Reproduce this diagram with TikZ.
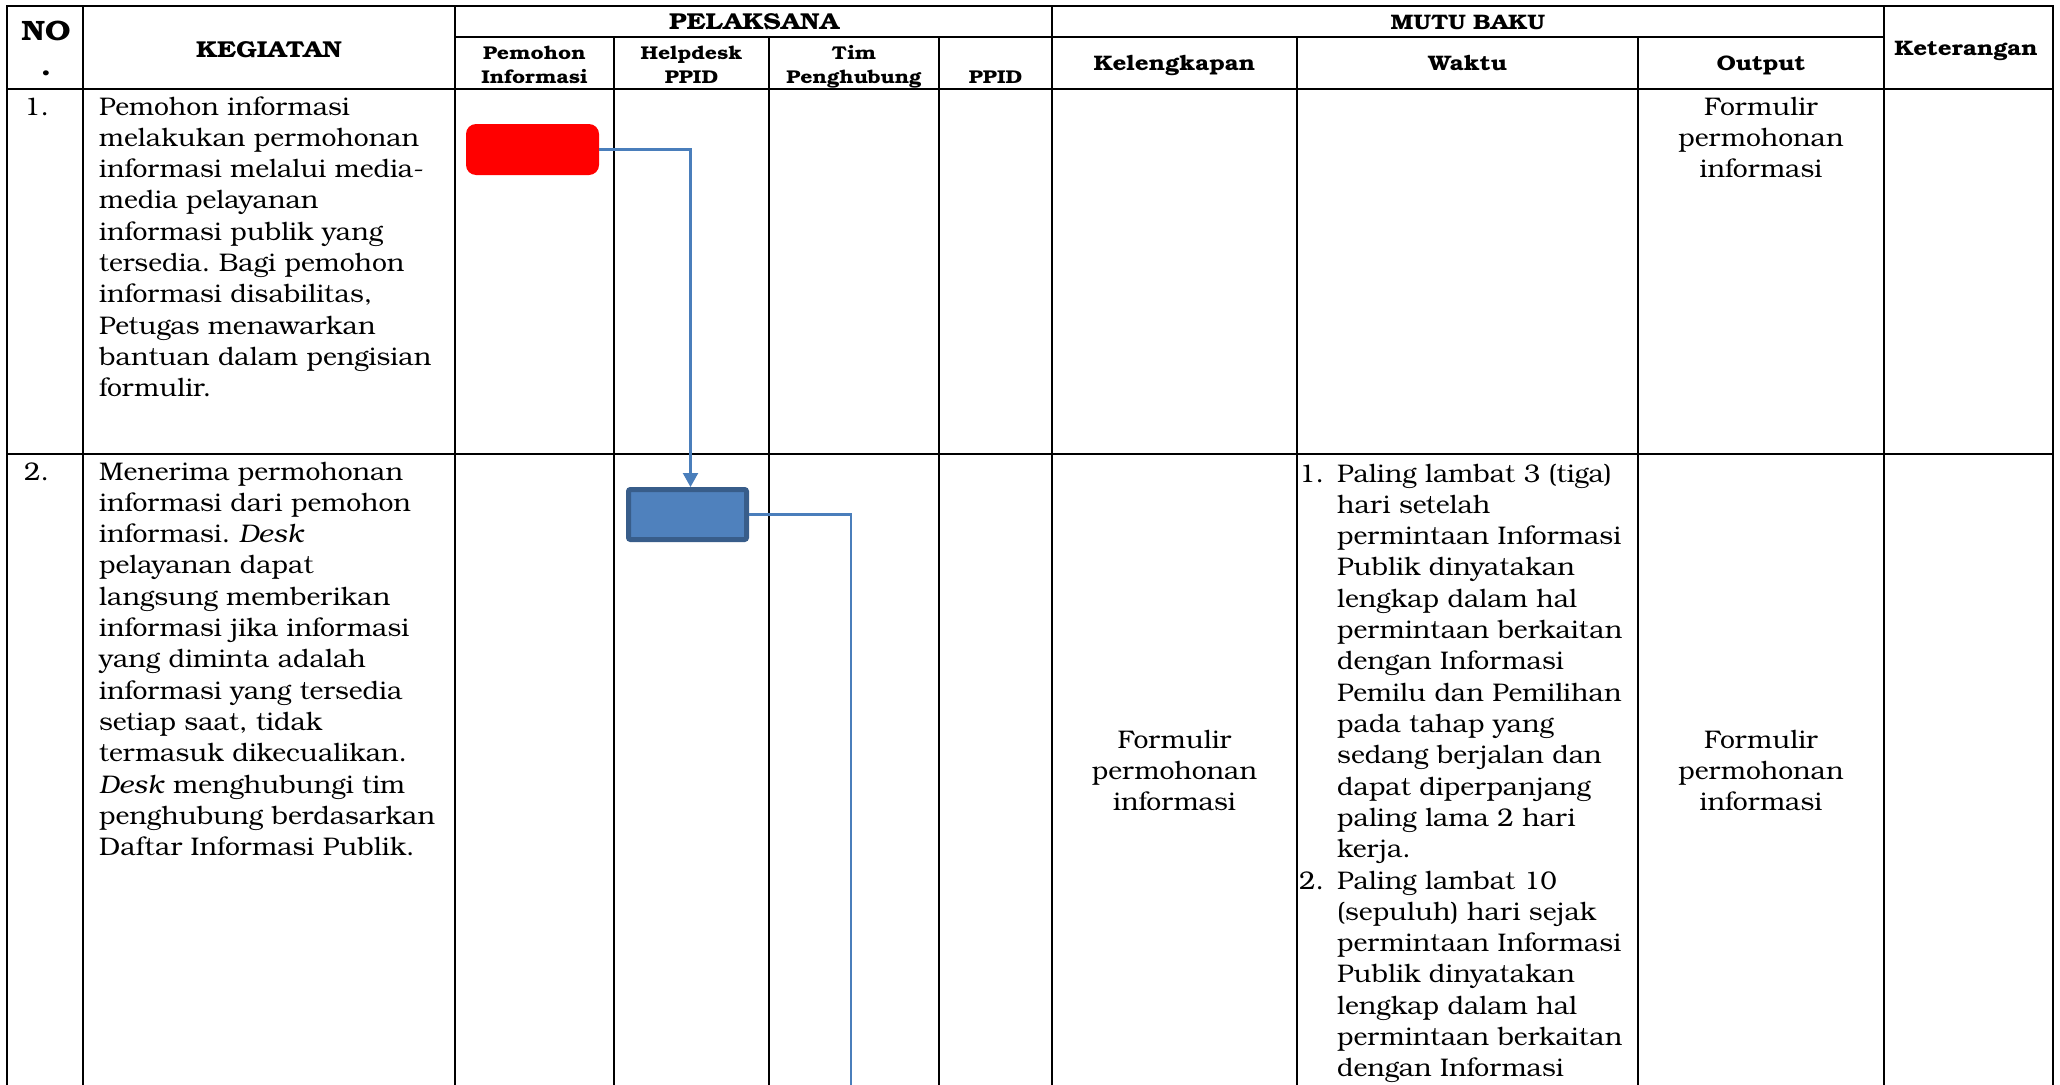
\documentclass[tikz,border=0pt]{standalone}
\usepackage{fontspec}
\setmainfont{texgyrebonum}[Extension=.otf, UprightFont=*-regular, BoldFont=*-bold, ItalicFont=*-italic, BoldItalicFont=*-bolditalic,
  UprightFeatures={FakeStretch=1.04}, ItalicFeatures={FakeStretch=1.04}, BoldFeatures={FakeStretch=1.15}]
\usetikzlibrary{arrows.meta}
\definecolor{connblue}{RGB}{74,126,187}
\definecolor{boxfill}{RGB}{79,129,189}
\definecolor{boxline}{RGB}{56,93,138}
\frenchspacing
\begin{document}
\begin{tikzpicture}[x=1pt,y=-1pt,
  grid/.style={line width=2.2pt, black},
  body/.style={font=\frenchspacing\fontsize{25.5}{31.3}\selectfont, inner sep=0pt, text width=420pt, align=left, anchor=base west},
  cbody/.style={font=\frenchspacing\fontsize{25.5}{31}\selectfont, inner sep=0pt, text width=240pt, align=center, anchor=base},
  hdr/.style={font=\bfseries\fontsize{23}{35}\selectfont, inner sep=0pt, text width=220pt, align=center, anchor=base},
  sub/.style={font=\bfseries\fontsize{18.5}{24}\selectfont, inner sep=0pt, text width=160pt, align=center, anchor=base},
  subb/.style={font=\bfseries\fontsize{21}{24}\selectfont, inner sep=0pt, text width=200pt, align=center, anchor=base},
  conn/.style={connblue, line width=2.2pt},
  start/.style={fill=red, draw=none, rounded corners=10pt, minimum width=133pt, minimum height=51pt, inner sep=0pt},
  proc/.style={fill=boxfill, draw=boxline, line width=5pt, rounded corners=2pt, minimum width=118pt, minimum height=50pt, inner sep=0pt}
]
\useasboundingbox (0,0) rectangle (2060,1084);
\clip (0,0) rectangle (2060,1084);
\fill[white] (0,0) rectangle (2060,1084);

% table grid
\draw[grid] (7,1100) -- (7,6) -- (2053,6) -- (2053,1100);
\draw[grid] (455,37) -- (1884,37);
\draw[grid, line width=2.8pt] (7,89) -- (2053,89);
\draw[grid] (7,454) -- (2053,454);
\foreach \x in {83,455,1052,1884} \draw[grid] (\x,6) -- (\x,1100);
\foreach \x in {614,769,939,1297,1638} \draw[grid] (\x,37) -- (\x,1100);

% headers
\node[hdr, font=\bfseries\fontsize{28}{35}\selectfont] (hno) at (46,40) {NO\\.};
\node[hdr] (hkeg) at (269,57) {KEGIATAN};
\node[hdr] (hpel) at (754,29) {PELAKSANA};
\node[hdr, font=\bfseries\fontsize{21}{35}\selectfont] (hmutu) at (1468,29) {MUTU BAKU};
\node[subb, font=\bfseries\fontsize{21}{24}\selectfont] (hket) at (1966,55) {Keterangan};
\node[sub] (hpem) at (534.5,59) {Pemohon\\Informasi};
\node[sub] (hhelp) at (691.5,59) {Helpdesk\\PPID};
\node[sub] (htim) at (854,59) {Tim\\Penghubung};
\node[sub] (hppid) at (995.5,83) {PPID};
\node[subb] (hkel) at (1174.5,70) {Kelengkapan};
\node[subb] (hwak) at (1467.5,70) {Waktu};
\node[subb] (hout) at (1761,70) {Output};

% row 1
\node[body] (n1) at (24,115) {1.};
\node[body] (k1) at (99,115) {Pemohon informasi\\melakukan permohonan\\informasi melalui media-\\media pelayanan\\informasi publik yang\\tersedia. Bagi pemohon\\informasi disabilitas,\\Petugas menawarkan\\bantuan dalam pengisian\\formulir.};
\node[cbody] (o1) at (1761,115) {Formulir\\permohonan\\informasi};

% row 2
\node[body] (n2) at (24,480) {2.};
\node[body] (k2) at (99,480) {Menerima permohonan\\informasi dari pemohon\\informasi. \textit{Desk}\\pelayanan dapat\\langsung memberikan\\informasi jika informasi\\yang diminta adalah\\informasi yang tersedia\\setiap saat, tidak\\termasuk dikecualikan.\\\textit{Desk} menghubungi tim\\penghubung berdasarkan\\Daftar Informasi Publik.};
\node[cbody] (kel2) at (1174.5,748) {Formulir\\permohonan\\informasi};
\node[cbody] (o2) at (1761,748) {Formulir\\permohonan\\informasi};
\node[body] (w1n) at (1299,482) {1.};
\node[body] (w1) at (1337,482) {Paling lambat 3 (tiga)\\hari setelah\\permintaan Informasi\\Publik dinyatakan\\lengkap dalam hal\\permintaan berkaitan\\dengan Informasi\\Pemilu dan Pemilihan\\pada tahap yang\\sedang berjalan dan\\dapat diperpanjang\\paling lama 2 hari\\kerja.};
\node[body] (w2n) at (1299,889) {2.};
\node[body] (w2) at (1337,889) {Paling lambat 10\\(sepuluh) hari sejak\\permintaan Informasi\\Publik dinyatakan\\lengkap dalam hal\\permintaan berkaitan\\dengan Informasi};

% flow shapes
\node[start] (red) at (532.5,149.5) {};
\node[proc] (blue) at (687.5,514.5) {};
\coordinate (down) at (851,1100);

\draw[conn, -{Triangle[width=15pt,length=14pt]}] (red.east) -| ([xshift=3pt]blue.north);
\draw[conn] (blue.east) -| (down);
\end{tikzpicture}
\end{document}
